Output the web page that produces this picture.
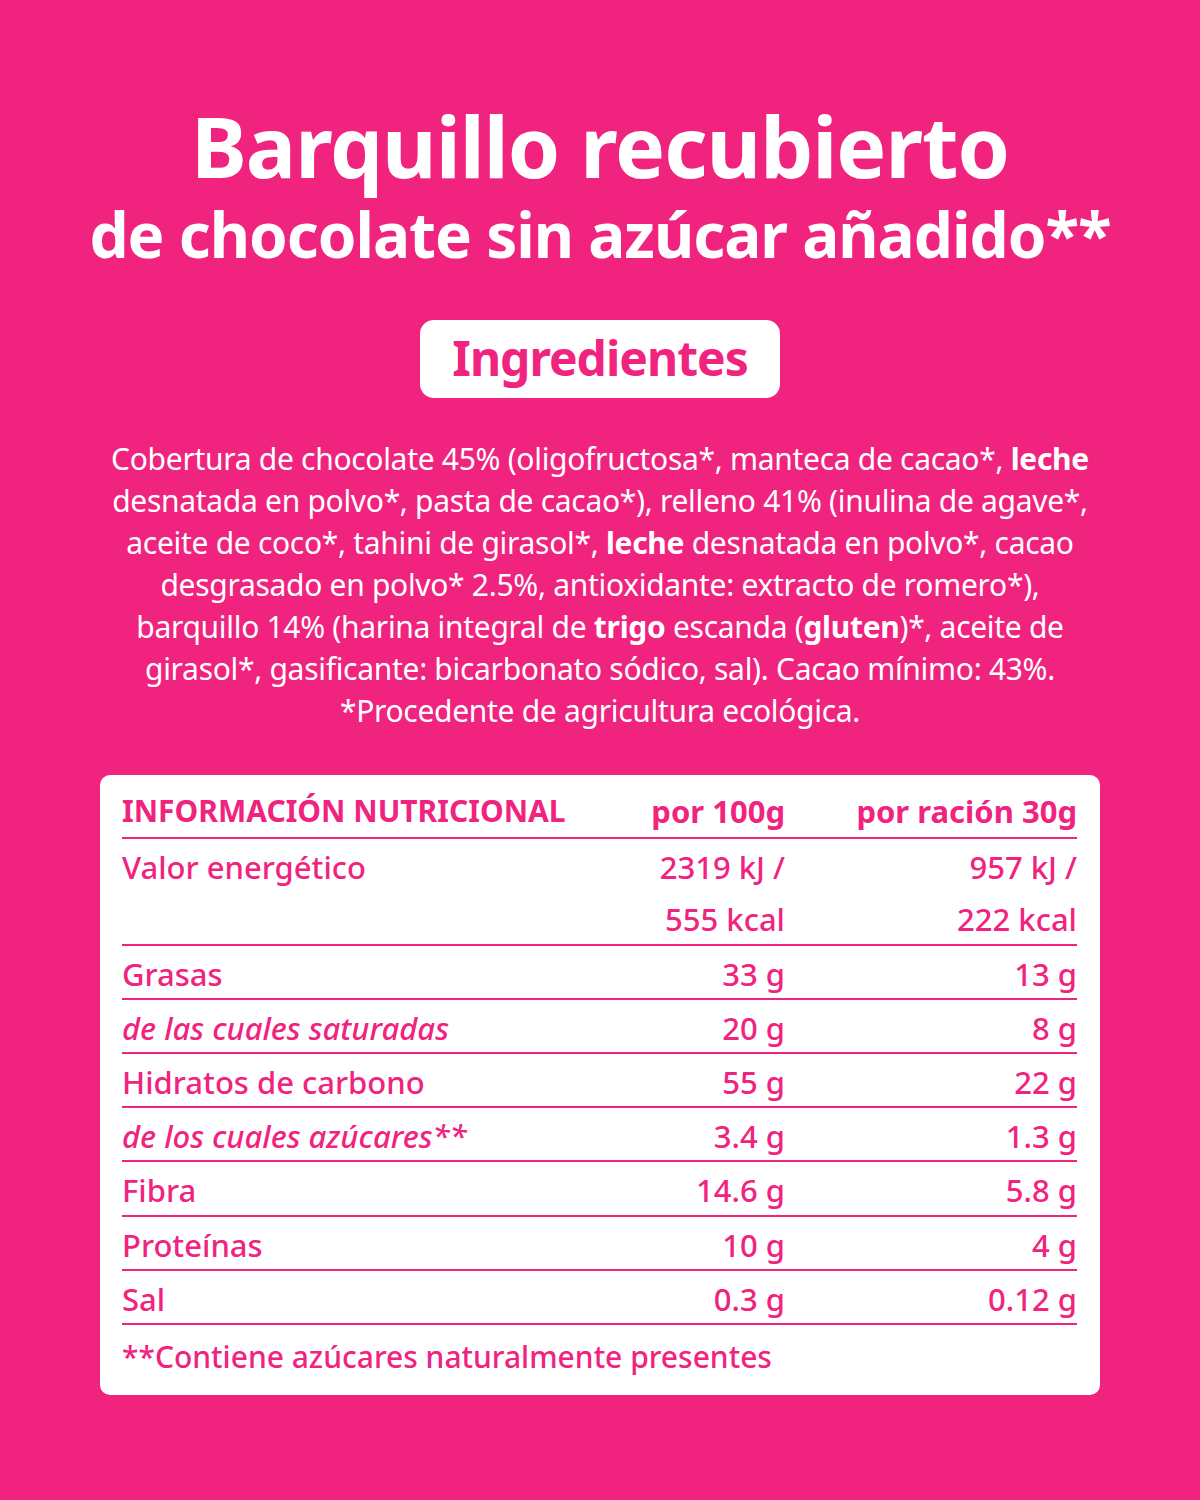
<!DOCTYPE html>
<html><head><meta charset="utf-8">
<script src="https://cdn.jsdelivr.net/npm/chart.js@4"></script>
<style>
body{margin:0;width:1200px;height:1500px;background:#F0237F;font-family:"Noto Sans",sans-serif;position:relative;overflow:hidden;color:#fff}
.t{position:absolute;left:0;width:1200px;text-align:center;font-weight:700;letter-spacing:-1px}
#ing{position:absolute;left:420px;top:320px;width:360px;height:78px;background:#fff;border-radius:14px;color:#F0237F;font-weight:700;font-size:48px;text-align:center;line-height:76px;letter-spacing:-1px}
#para{position:absolute;left:0;width:1200px;top:438px;text-align:center;font-size:30px;line-height:42px;white-space:nowrap;letter-spacing:-0.3px}
#box{position:absolute;left:100px;top:775px;width:1000px;height:620px;background:#fff;border-radius:10px;color:#F0237F}
.c{position:absolute;font-size:31px;white-space:nowrap;font-weight:500}
.ln{position:absolute;left:22px;width:955px;height:2px;background:#F0237F}
</style></head><body>
<div class="t" style="top:88px;font-size:84px">Barquillo recubierto</div>
<div class="t" style="top:192px;font-size:62px">de chocolate sin azúcar añadido**</div>
<div id="ing">Ingredientes</div>
<div id="para">Cobertura de chocolate 45% (oligofructosa*, manteca de cacao*, <b>leche</b><br>desnatada en polvo*, pasta de cacao*), relleno 41% (inulina de agave*,<br>aceite de coco*, tahini de girasol*, <b>leche</b> desnatada en polvo*, cacao<br>desgrasado en polvo* 2.5%, antioxidante: extracto de romero*),<br>barquillo 14% (harina integral de <b>trigo</b> escanda (<b>gluten</b>)*, aceite de<br>girasol*, gasificante: bicarbonato sódico, sal). Cacao mínimo: 43%.<br>*Procedente de agricultura ecológica.</div>
<div id="box"></div>
<script>
const headers = ["INFORMACIÓN NUTRICIONAL", "por 100g", "por ración 30g"];
const rowLabels = ["Valor energético", "Grasas", "de las cuales saturadas", "Hidratos de carbono", "de los cuales azúcares**", "Fibra", "Proteínas", "Sal"];
const per100 = ["2319 kJ /<br>555 kcal", "33 g", "20 g", "55 g", "3.4 g", "14.6 g", "10 g", "0.3 g"];
const perServing = ["957 kJ /<br>222 kcal", "13 g", "8 g", "22 g", "1.3 g", "5.8 g", "4 g", "0.12 g"];
const italicRows = [2, 4];
const rowTops = [70, 177, 231, 285, 339, 393, 448, 502];
const lineTops = [62, 169, 223, 277, 331, 385, 440, 494, 548];

const box = document.getElementById('box');
function cell(html, top, x, align, extra) {
  const d = document.createElement('div');
  d.className = 'c';
  d.innerHTML = html;
  d.style.top = top + 'px';
  d.style.lineHeight = '52px';
  if (align === 'right') { d.style.right = (1000 - x) + 'px'; d.style.textAlign = 'right'; }
  else d.style.left = x + 'px';
  Object.assign(d.style, extra || {});
  box.appendChild(d);
}
cell(headers[0], 10, 22, 'left', {fontWeight: 700, fontSize: '30px'});
cell(headers[1], 10, 685, 'right', {fontWeight: 700});
cell(headers[2], 10, 977, 'right', {fontWeight: 700});
rowLabels.forEach((l, i) => {
  const st = italicRows.includes(i) ? {fontStyle: 'italic'} : {};
  cell(l, rowTops[i] - 4, 22, 'left', st);
  cell(per100[i], rowTops[i] - 4, 685, 'right');
  cell(perServing[i], rowTops[i] - 4, 977, 'right');
});
lineTops.forEach(t => {
  const d = document.createElement('div');
  d.className = 'ln'; d.style.top = t + 'px'; box.appendChild(d);
});
cell("**Contiene azúcares naturalmente presentes", 556, 22, 'left', {fontSize: '30px'});
</script>
</body></html>
